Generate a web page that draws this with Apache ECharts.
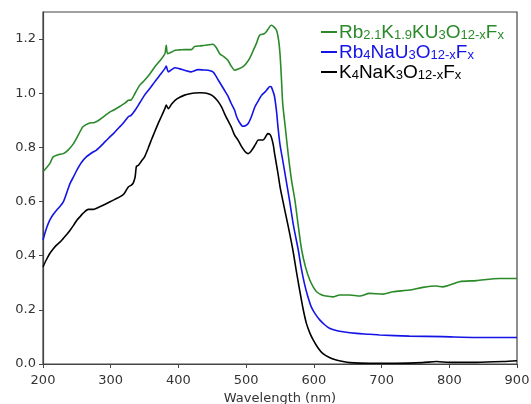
<!DOCTYPE html>
<html lang="en">
<head>
    <meta charset="UTF-8">
    <title>Absorbance spectra</title>
    <script src="https://cdn.jsdelivr.net/npm/echarts@6/dist/echarts.min.js"></script>
    <style>
        body { margin: 0; background: #ffffff; }
        #chart { width: 531px; height: 404px; }
    </style>
</head>
<body>
<div id="chart"></div>
<script>
    // 数据: [波长 nm, 数值]
    var greenData = [[200,0.710],[210,0.740],[215,0.765],[225,0.775],[230,0.777],[237,0.790],[245,0.814],[252,0.845],[259,0.876],[269,0.890],[276,0.892],[284,0.903],[292,0.918],[299,0.931],[306,0.940],[314,0.952],[322,0.965],[326,0.974],[330,0.975],[336,1.000],[343,1.030],[350,1.048],[358,1.072],[365,1.097],[372,1.118],[380,1.146],[382,1.177],[384,1.146],[390,1.152],[395,1.159],[402,1.160],[409,1.161],[419,1.161],[424,1.173],[432,1.175],[439,1.177],[451,1.181],[456,1.168],[461,1.146],[467,1.135],[473,1.122],[478,1.100],[483,1.085],[489,1.090],[495,1.097],[500,1.110],[505,1.128],[510,1.155],[515,1.183],[520,1.214],[527,1.220],[532,1.235],[537,1.251],[541,1.245],[545,1.232],[548,1.195],[550,1.146],[552,1.060],[554,0.962],[558,0.870],[562,0.777],[567,0.679],[572,0.605],[577,0.510],[582,0.421],[588,0.355],[594,0.310],[599,0.285],[604,0.267],[611,0.256],[618,0.251],[628,0.248],[638,0.255],[653,0.255],[668,0.251],[682,0.261],[702,0.258],[717,0.267],[741,0.273],[761,0.283],[781,0.288],[790,0.285],[815,0.304],[840,0.308],[874,0.316],[900,0.316]];

    var blueData = [[200,0.458],[205,0.500],[210,0.531],[215,0.552],[220,0.568],[225,0.582],[230,0.599],[235,0.632],[240,0.667],[245,0.691],[250,0.716],[257,0.745],[264,0.765],[274,0.783],[279,0.790],[289,0.814],[296,0.832],[304,0.851],[311,0.870],[318,0.888],[326,0.913],[330,0.918],[336,0.937],[343,0.965],[350,0.993],[358,1.018],[365,1.042],[372,1.065],[380,1.091],[382,1.100],[385,1.079],[390,1.087],[395,1.094],[402,1.090],[409,1.085],[419,1.079],[429,1.087],[437,1.086],[444,1.085],[451,1.079],[455,1.065],[459,1.048],[468,1.011],[473,0.990],[478,0.962],[483,0.937],[486,0.913],[490,0.893],[495,0.878],[499,0.880],[503,0.888],[508,0.915],[513,0.950],[518,0.972],[523,0.993],[528,1.005],[532,1.017],[535,1.025],[537,1.024],[540,1.005],[542,0.987],[545,0.930],[547,0.876],[550,0.810],[554,0.753],[559,0.679],[564,0.605],[570,0.510],[577,0.421],[581,0.360],[586,0.298],[591,0.250],[596,0.212],[602,0.185],[609,0.162],[616,0.145],[623,0.132],[633,0.124],[643,0.119],[663,0.113],[682,0.110],[697,0.107],[741,0.103],[790,0.101],[840,0.098],[900,0.098]];

    var blackData = [[200,0.359],[205,0.385],[210,0.408],[215,0.425],[220,0.439],[225,0.450],[230,0.464],[235,0.478],[240,0.494],[245,0.512],[250,0.531],[255,0.545],[259,0.556],[267,0.571],[274,0.571],[279,0.575],[284,0.581],[292,0.590],[299,0.599],[306,0.608],[314,0.618],[320,0.630],[326,0.654],[330,0.660],[333,0.667],[336,0.690],[338,0.730],[341,0.734],[345,0.748],[350,0.765],[355,0.795],[360,0.827],[365,0.858],[370,0.888],[375,0.915],[380,0.943],[382,0.956],[385,0.943],[390,0.960],[395,0.974],[402,0.985],[409,0.993],[417,0.998],[424,1.001],[432,1.002],[439,1.001],[444,0.998],[449,0.993],[454,0.983],[459,0.968],[464,0.948],[468,0.925],[473,0.900],[478,0.876],[483,0.845],[488,0.827],[494,0.800],[499,0.783],[503,0.777],[507,0.785],[510,0.796],[514,0.812],[518,0.827],[525,0.827],[529,0.840],[532,0.851],[535,0.848],[537,0.839],[540,0.810],[542,0.777],[547,0.704],[550,0.655],[554,0.605],[562,0.510],[569,0.421],[574,0.345],[579,0.273],[584,0.205],[589,0.150],[594,0.115],[599,0.089],[606,0.060],[613,0.039],[623,0.024],[633,0.015],[643,0.009],[653,0.005],[682,0.003],[720,0.003],[760,0.005],[781,0.009],[800,0.006],[840,0.006],[880,0.009],[900,0.012]];

    var seriesNames = ['Rb2.1K1.9KU3O12-xFx', 'Rb4NaU3O12-xFx', 'K4NaK3O12-xFx'];
    // 图例文字(带下标)
    var legendRich = {
        'Rb2.1K1.9KU3O12-xFx': '{g|Rb}{gs|2.1}{g|K}{gs|1.9}{g|KU}{gs|3}{g|O}{gs|12-x}{g|F}{gs|x}',
        'Rb4NaU3O12-xFx': '{b|Rb}{bs|4}{b|NaU}{bs|3}{b|O}{bs|12-x}{b|F}{bs|x}',
        'K4NaK3O12-xFx': '{k|K}{ks|4}{k|NaK}{ks|3}{k|O}{ks|12-x}{k|F}{ks|x}'
    };

    var colGreen = '#2a8a2a', colBlue = '#1414e6', colBlack = '#000000';
    var mainFont = 'Liberation Sans';

    function big(c) { return { color: c, fontSize: 19, fontFamily: mainFont, lineHeight: 20, verticalAlign: 'bottom' }; }
    function sub(c) { return { color: c, fontSize: 13, fontFamily: mainFont, lineHeight: 15, verticalAlign: 'bottom' }; }

    var chart = echarts.init(document.getElementById('chart'));

    var option = {
        backgroundColor: '#ffffff',
        animation: false,
        grid: {
            left: 43, right: 14, top: 12, bottom: 40,
            outerBoundsMode: 'none',
            show: true, borderColor: '#444', borderWidth: 1.2
        },
        legend: {
            orient: 'vertical',
            left: 316,
            top: 18,
            itemGap: 1,
            itemWidth: 16,
            itemHeight: 2,
            icon: 'rect',
            data: seriesNames,
            formatter: function (name) { return legendRich[name]; },
            textStyle: {
                padding: [0, 0, 0, -3],
                rich: {
                    g: big(colGreen), gs: sub(colGreen),
                    b: big(colBlue), bs: sub(colBlue),
                    k: big(colBlack), ks: sub(colBlack)
                }
            }
        },
        xAxis: {
            type: 'value',
            min: 200, max: 900, interval: 100,
            name: 'Wavelength (nm)',
            nameLocation: 'middle',
            nameGap: 27,
            nameTextStyle: { fontFamily: 'DejaVu Sans', fontSize: 13, color: '#333' },
            axisLine: { show: true, lineStyle: { color: '#444', width: 1.2 } },
            axisTick: { show: true, inside: false, length: 4, lineStyle: { color: '#444' } },
            axisLabel: { fontFamily: 'DejaVu Sans', fontSize: 13, color: '#333', margin: 10 },
            splitLine: { show: false }
        },
        yAxis: {
            type: 'value',
            min: 0, max: 1.3, interval: 0.2,
            axisLine: { show: true, lineStyle: { color: '#444', width: 1.2 } },
            axisTick: { show: true, inside: false, length: 4, lineStyle: { color: '#444' } },
            axisLabel: {
                fontFamily: 'DejaVu Sans', fontSize: 13, color: '#333', margin: 7,
                showMaxLabel: false,
                formatter: function (v) { return v.toFixed(1); }
            },
            splitLine: { show: false }
        },
        series: [
            { name: seriesNames[0], type: 'line', data: greenData, symbol: 'none', smooth: 0.25,
              lineStyle: { color: colGreen, width: 1.6 }, itemStyle: { color: colGreen } },
            { name: seriesNames[1], type: 'line', data: blueData, symbol: 'none', smooth: 0.25,
              lineStyle: { color: colBlue, width: 1.6 }, itemStyle: { color: colBlue } },
            { name: seriesNames[2], type: 'line', data: blackData, symbol: 'none', smooth: 0.25,
              lineStyle: { color: colBlack, width: 1.6 }, itemStyle: { color: colBlack } }
        ]
    };

    chart.setOption(option);
</script>
</body>
</html>
